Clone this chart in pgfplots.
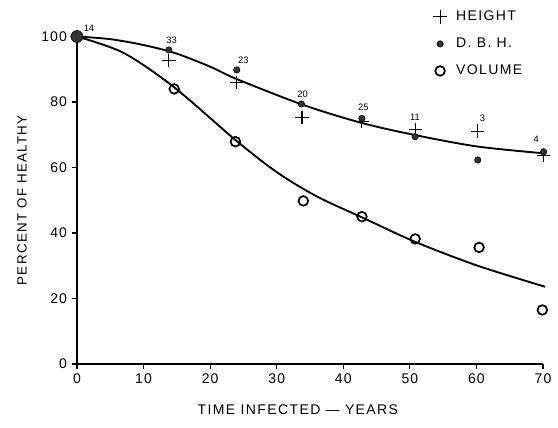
\documentclass[border=0pt]{standalone}
\usepackage{fontspec}
\setmainfont{Liberation Sans}
\newfontfamily\lab[LetterSpace=10]{Liberation Sans}
\newfontfamily\tck[LetterSpace=8]{Liberation Sans}
\usepackage{pgfplots}
\pgfplotsset{compat=1.18}
\begin{document}
\begin{tikzpicture}
\useasboundingbox (-57.75pt,-48pt) rectangle (360.75pt,273pt);
\begin{axis}[
  anchor=origin, at={(0,0)},
  scale only axis, width=349.5pt, height=245.6pt,
  xmin=0, xmax=70, ymin=0, ymax=100,
  axis lines=left, axis line style={-, line width=1.3pt},
  xtick={0,10,...,70}, ytick={0,20,...,100},
  tick align=outside, major tick length=4pt,
  tick style={line width=0.9pt, black},
  /pgf/number format/assume math mode=true,
  ticklabel style={font=\tck\fontsize{10.5}{12}\selectfont},
  xlabel={TIME INFECTED \textemdash\ YEARS},
  ylabel={PERCENT OF HEALTHY},
  every axis x label/.style={at={(axis description cs:0.474,-0.14)}, anchor=center, font=\lab\fontsize{10.5}{12}\selectfont},
  every axis y label/.style={at={(axis description cs:-0.118,0.5)}, rotate=90, anchor=center, font=\lab\fontsize{10}{12}\selectfont},
  clip=false,
  legend style={draw=none, fill=none, at={(axis cs:53.3,109.1)}, anchor=north west,
    font=\lab\fontsize{10.5}{12}\selectfont, row sep=7.5pt, inner sep=1pt,
    /tikz/every odd column/.append style={column sep=5pt}},
  legend cell align=left,
]
\addplot[only marks, mark=+, mark size=5pt, line width=0.8pt, black] coordinates {
(0,100) (13.8,92.6) (24,86.0) (33.8,75.3) (42.8,74.0) (50.8,71.5) (60.2,71.1) (70.1,63.8)};
\addlegendentry{HEIGHT}
\addplot[only marks, mark=*, mark size=2.4pt, draw=none, fill=black!80] coordinates {
(13.8,95.9) (24,89.8) (33.7,79.4) (42.8,75.0) (50.8,69.4) (60.2,62.3) (70.1,64.8)};
\addlegendentry{D. B. H.}
\addplot[only marks, mark=o, mark size=3.6pt, line width=1.3pt, black] coordinates {
(14.6,84.0) (23.8,67.9) (34,49.8) (42.8,45.0) (50.8,38.2) (60.4,35.6) (69.9,16.5)};
\addlegendentry{VOLUME}
\addplot[smooth, line width=1.4pt, black, forget plot] coordinates {
(0,100) (5,99.2) (10,97.4) (14.8,94.9) (20,90.8) (24,87.0) (34,79.1) (42.8,73.6) (50.8,69.9) (60.2,66.4) (70.3,64.3)};
\addplot[smooth, line width=1.4pt, black, forget plot] coordinates {
(0,100) (7,95.0) (14.6,84.5) (23.8,68.4) (30,58.6) (36,51.2) (43,44.6) (50.8,37.3) (60.2,30.0) (70.3,23.6)};
\addplot[only marks, mark=*, mark size=4.5pt, draw=none, fill=black!80, forget plot] coordinates {(0,100)};
\addplot[only marks, nodes near coords, point meta=explicit symbolic, mark=none,
  every node near coord/.style={font=\fontsize{7}{8}\selectfont, anchor=center, inner sep=0pt}, forget plot]
  coordinates {
(1.8,102.5) [14] (14.2,98.8) [33] (25,92.8) [23] (33.9,82.3) [20] (43,78.4) [25] (50.75,75.3) [11] (60.9,75) [3] (69,68.6) [4]};
\end{axis}
\end{tikzpicture}
\end{document}
